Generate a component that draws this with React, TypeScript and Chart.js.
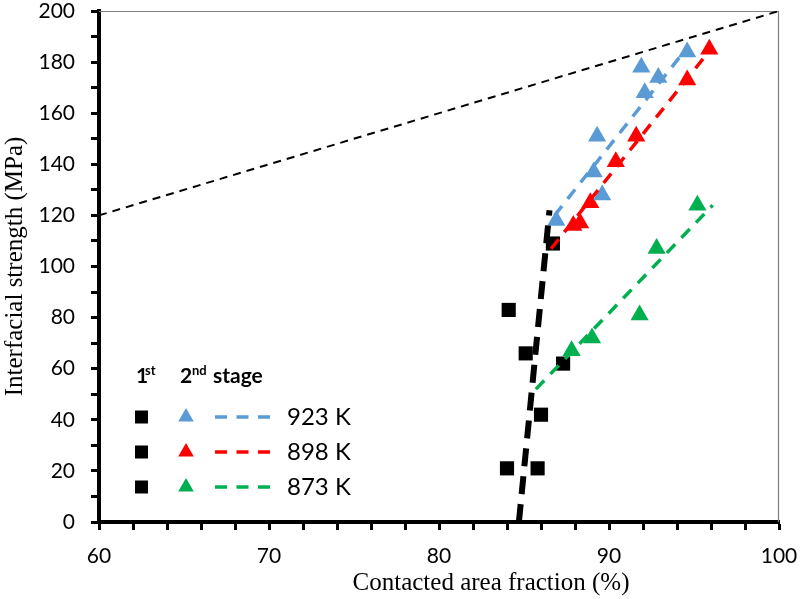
import { useEffect, useRef } from "react"
import { Chart, registerables, type ChartConfiguration, type Plugin } from "chart.js"

Chart.register(...registerables)

// 1st stage (black squares)
const firstStageX = [84.0, 85.8, 86.0, 87.3, 85.1, 84.1, 86.7]
const firstStageY = [21, 21, 42, 62, 66, 83, 109]

// 2nd stage (triangles)
const k923X = [86.9, 89.6, 89.1, 89.3, 92.1, 91.9, 92.9, 94.6]
const k923Y = [118, 128, 137, 151, 168, 178, 174, 184]
const k898X = [87.9, 88.3, 88.9, 90.4, 91.6, 94.6, 95.9]
const k898Y = [116, 117, 125, 141, 151, 173, 185]
const k873X = [87.8, 89.0, 91.8, 92.8, 95.2]
const k873Y = [67, 72, 81, 107, 124]

// dashed trend lines
const fit923X = [86.8, 94.4]
const fit923Y = [120, 184]
const fit898X = [86.6, 96.1]
const fit898Y = [107, 186]
const fit873X = [85.7, 96.1]
const fit873Y = [52, 124]
const firstFitX = [84.7, 86.5]
const firstFitY = [0, 122]
const limitX = [60, 100]
const limitY = [120, 200]

const seriesLabels = ["923 K", "898 K", "873 K"]
const seriesColors = ["#5B9BD5", "#FF0000", "#00B050"]

const xTickLabels = [60, 70, 80, 90, 100]
const yTickLabels = [0, 20, 40, 60, 80, 100, 120, 140, 160, 180, 200]

const pts = (xs: number[], ys: number[]) => xs.map((x, i) => ({ x, y: ys[i] }))

const TICK_FONT = "Lato"

const decorPlugin: Plugin<"scatter"> = {
  id: "decor",
  beforeDatasetsDraw(chart) {
    const { ctx, chartArea: a } = chart
    ctx.save()
    ctx.strokeStyle = "#808080"
    ctx.lineWidth = 1.2
    ctx.beginPath()
    ctx.moveTo(a.left, a.top + 0.5)
    ctx.lineTo(a.right - 0.5, a.top + 0.5)
    ctx.lineTo(a.right - 0.5, a.bottom)
    ctx.stroke()
    ctx.restore()
  },
  afterDraw(chart) {
    const { ctx } = chart
    ctx.save()
    // x axis title (sits right of centre in the original)
    ctx.fillStyle = "#000"
    ctx.font = "25px 'Liberation Serif'"
    ctx.textAlign = "center"
    ctx.textBaseline = "alphabetic"
    ctx.fillText("Contacted area fraction (%)", 491, 590)

    // legend header
    ctx.textAlign = "left"
    ctx.font = `bold 21px ${TICK_FONT}`
    ctx.fillText("1", 136, 383)
    ctx.fillText("2", 180, 383)
    ctx.fillText("stage", 213, 383)
    ctx.font = `bold 13px ${TICK_FONT}`
    ctx.fillText("st", 145, 375)
    ctx.fillText("nd", 192, 375)

    // legend rows
    const rowY = [417, 452, 487]
    seriesLabels.forEach((label, i) => {
      const y = rowY[i]
      ctx.fillStyle = "#000"
      ctx.fillRect(135, y - 6.5, 13, 13)
      ctx.fillStyle = seriesColors[i]
      const r = 9
      ctx.beginPath()
      ctx.moveTo(186, y - r)
      ctx.lineTo(186 + r * 0.866, y + r / 2)
      ctx.lineTo(186 - r * 0.866, y + r / 2)
      ctx.closePath()
      ctx.fill()
      ctx.strokeStyle = seriesColors[i]
      ctx.lineWidth = 3.5
      ctx.setLineDash([12, 9.5])
      ctx.beginPath()
      ctx.moveTo(215, y)
      ctx.lineTo(270, y)
      ctx.stroke()
      ctx.setLineDash([])
      ctx.fillStyle = "#000"
      ctx.font = `24px ${TICK_FONT}`
      ctx.textBaseline = "middle"
      ctx.fillText(label, 287, y)
      ctx.textBaseline = "alphabetic"
    })
    ctx.restore()
  },
}

export default function App() {
  const chartRef = useRef<HTMLCanvasElement>(null)

  useEffect(() => {
    document.body.style.margin = "0"
    if (!chartRef.current) return
    const ctx = chartRef.current.getContext("2d")
    if (!ctx) return

    const lineDs = (xs: number[], ys: number[], color: string, width: number, dash: number[]) => ({
      data: pts(xs, ys),
      showLine: true,
      borderColor: color,
      borderWidth: width,
      borderDash: dash,
      pointRadius: 0,
      fill: false,
      order: 0,
    })
    const markerDs = (xs: number[], ys: number[], color: string, style: "rect" | "triangle") => ({
      data: pts(xs, ys),
      showLine: false,
      pointStyle: style,
      pointRadius: style === "rect" ? 10 : 10.5,
      backgroundColor: color,
      borderColor: color,
      borderWidth: 0,
      order: 1,
    })

    const config: ChartConfiguration<"scatter"> = {
      type: "scatter",
      data: {
        datasets: [
          lineDs(limitX, limitY, "#000", 2, [8, 6]),
          lineDs(firstFitX, firstFitY, "#000", 6, [18, 10]),
          lineDs(fit923X, fit923Y, seriesColors[0], 3.5, [12, 9]),
          lineDs(fit898X, fit898Y, seriesColors[1], 3.5, [12, 9]),
          lineDs(fit873X, fit873Y, seriesColors[2], 3.5, [12, 9]),
          markerDs(firstStageX, firstStageY, "#000", "rect"),
          markerDs(k923X, k923Y, seriesColors[0], "triangle"),
          markerDs(k898X, k898Y, seriesColors[1], "triangle"),
          markerDs(k873X, k873Y, seriesColors[2], "triangle"),
        ] as any,
      },
      options: {
        animation: false,
        responsive: true,
        maintainAspectRatio: false,
        layout: { padding: { top: 11, right: 21, left: 0, bottom: 0 } },
        plugins: {
          legend: { display: false },
          tooltip: { enabled: false },
        },
        scales: {
          x: {
            type: "linear",
            min: 60,
            max: 100,
            afterFit: (s: any) => {
              s.height = 77
              s.paddingLeft = 0
              s.paddingRight = 0
            },
            ticks: {
              stepSize: 2,
              autoSkip: false,
              maxRotation: 0,
              color: "#000",
              padding: 14,
              font: { family: TICK_FONT, size: 21 },
              callback: (v) => (xTickLabels.includes(Number(v)) ? String(v) : ""),
            },
            grid: {
              drawOnChartArea: false,
              drawTicks: true,
              tickLength: 8,
              tickColor: "#000",
              tickWidth: 3,
            },
            border: { display: true, color: "#000", width: 4 },
          },
          y: {
            type: "linear",
            min: 0,
            max: 200,
            afterFit: (s: any) => {
              s.width = 99
              s.paddingTop = 0
              s.paddingBottom = 0
            },
            ticks: {
              stepSize: 10,
              autoSkip: false,
              color: "#000",
              padding: 16,
              font: { family: TICK_FONT, size: 21 },
              callback: (v) => (yTickLabels.includes(Number(v)) ? String(v) : ""),
            },
            grid: {
              drawOnChartArea: false,
              drawTicks: true,
              tickLength: 8,
              tickColor: "#000",
              tickWidth: 3,
            },
            border: { display: true, color: "#000", width: 4 },
            title: {
              display: true,
              text: "Interfacial strength (MPa)",
              color: "#000",
              font: { family: "'Liberation Serif'", size: 25 },
              padding: 0,
            },
          },
        },
      },
      plugins: [decorPlugin],
    }

    const chart = new Chart(ctx, config)
    return () => chart.destroy()
  }, [])

  return (
    <div style={{ position: "relative", width: 800, height: 599 }}>
      <canvas ref={chartRef} />
    </div>
  )
}
